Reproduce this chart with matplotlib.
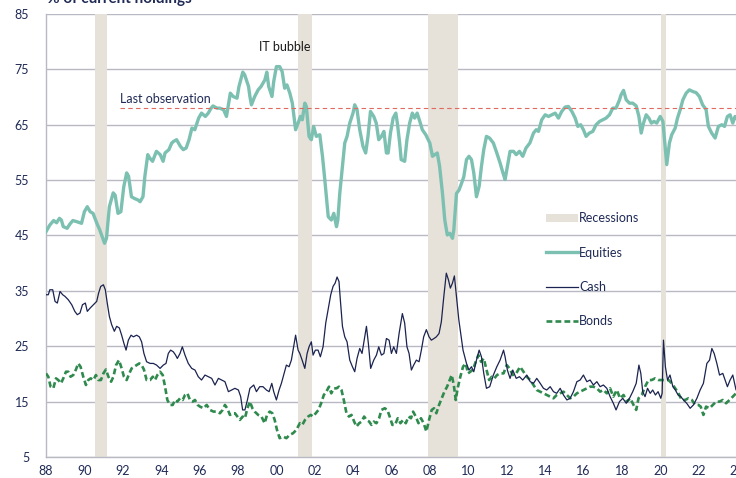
import matplotlib
matplotlib.use("Agg")
import matplotlib.pyplot as plt
from matplotlib.patches import Patch
from matplotlib.lines import Line2D

plt.rcParams['font.family'] = ['Lato', 'DejaVu Sans']

# ---------------- data ----------------
eq_years = [1988.0, 1988.2, 1988.4, 1988.55, 1988.7, 1988.8, 1988.9, 1989.1, 1989.25, 1989.4, 1989.6, 1989.85,
            1990.0, 1990.15, 1990.3, 1990.45, 1990.65, 1990.8, 1991.05, 1991.15, 1991.3, 1991.5, 1991.6, 1991.75,
            1991.9, 1992.05, 1992.2, 1992.3, 1992.45, 1992.6, 1992.8, 1992.9, 1993.05, 1993.15, 1993.3, 1993.4,
            1993.55, 1993.75, 1993.95, 1994.1, 1994.2, 1994.4, 1994.55, 1994.65, 1994.8, 1995.0, 1995.15, 1995.3,
            1995.45, 1995.6, 1995.75, 1995.95, 1996.1, 1996.3, 1996.45, 1996.6, 1996.7, 1996.9, 1997.05, 1997.25,
            1997.4, 1997.6, 1997.75, 1997.95, 1998.05, 1998.25, 1998.35, 1998.55, 1998.62, 1998.7, 1998.87,
            1999.05, 1999.2, 1999.4, 1999.5, 1999.6, 1999.77, 1999.86, 2000.0, 2000.17, 2000.3, 2000.43, 2000.55,
            2000.7, 2000.83, 2001.0, 2001.13, 2001.25, 2001.35, 2001.48, 2001.56, 2001.7, 2001.82, 2001.94,
            2002.08, 2002.26, 2002.4, 2002.52, 2002.7, 2002.86, 2002.99, 2003.13, 2003.2, 2003.3, 2003.44,
            2003.56, 2003.68, 2003.82, 2003.99, 2004.08, 2004.2, 2004.34, 2004.51, 2004.65, 2004.77, 2004.9,
            2005.07, 2005.2, 2005.33, 2005.47, 2005.6, 2005.73, 2005.82, 2005.94, 2006.08, 2006.22, 2006.3,
            2006.42, 2006.5, 2006.68, 2006.8, 2006.94, 2007.08, 2007.2, 2007.33, 2007.47, 2007.6, 2007.78,
            2007.99, 2008.13, 2008.25, 2008.38, 2008.5, 2008.65, 2008.77, 2008.9, 2009.03, 2009.17, 2009.24,
            2009.38, 2009.51, 2009.64, 2009.76, 2009.9, 2010.03, 2010.16, 2010.28, 2010.42, 2010.56, 2010.68,
            2010.8, 2010.94, 2011.1, 2011.3, 2011.48, 2011.65, 2011.8, 2011.91, 2012.03, 2012.17, 2012.35,
            2012.49, 2012.66, 2012.83, 2013.0, 2013.2, 2013.39, 2013.53, 2013.65, 2013.82, 2014.0, 2014.17,
            2014.34, 2014.52, 2014.69, 2014.86, 2015.04, 2015.21, 2015.39, 2015.56, 2015.7, 2015.85, 2015.99,
            2016.13, 2016.3, 2016.48, 2016.65, 2016.83, 2017.0, 2017.17, 2017.35, 2017.52, 2017.69, 2017.87,
            2017.95, 2018.08, 2018.22, 2018.39, 2018.56, 2018.74, 2018.88, 2019.0, 2019.12, 2019.26, 2019.4,
            2019.53, 2019.67, 2019.81, 2019.99, 2020.13, 2020.23, 2020.33, 2020.47, 2020.59, 2020.77, 2020.89,
            2021.03, 2021.17, 2021.34, 2021.51, 2021.69, 2021.86, 2022.03, 2022.2, 2022.38, 2022.5, 2022.67,
            2022.85, 2023.02, 2023.2, 2023.34, 2023.49, 2023.63, 2023.77, 2023.89, 2024.05]
eq_vals = [45.7, 46.9, 47.7, 47.3, 48.1, 47.8, 46.6, 46.3, 47.1, 47.7, 47.5, 47.2,
           49.3, 50.2, 49.3, 49.0, 47.2, 46.0, 43.6, 44.5, 50.2, 52.7, 52.3, 49.0,
           49.3, 53.8, 56.3, 55.7, 52.0, 51.7, 51.4, 51.1, 52.0, 55.7, 59.6, 59.0,
           58.4, 60.2, 59.6, 58.4, 59.9, 60.5, 61.7, 62.0, 62.3, 61.1, 60.5, 60.8,
           62.3, 64.4, 64.1, 66.2, 67.1, 66.5, 67.1, 68.0, 68.4, 68.0, 68.0, 67.7,
           66.5, 70.7, 70.1, 69.8, 71.9, 74.5, 74.0, 71.9, 70.1, 68.6, 70.1,
           71.3, 71.9, 73.1, 74.5, 71.9, 70.1, 72.8, 75.5, 75.5, 74.6, 71.6, 72.2,
           70.7, 68.9, 64.1, 65.3, 66.5, 65.9, 68.9, 68.3, 62.9, 62.3, 64.7,
           62.9, 63.2, 59.3, 55.1, 48.4, 47.8, 49.0, 46.6, 47.8, 52.6, 57.5,
           61.7, 62.9, 65.3, 67.1, 68.6, 67.7, 64.1, 61.1, 59.9, 62.9, 67.4,
           66.5, 65.3, 62.3, 62.9, 63.8, 59.9, 59.9, 63.5, 66.2, 67.1, 65.3,
           61.7, 58.7, 58.4, 62.3, 65.3, 67.1, 66.2, 67.1, 65.6, 64.1, 63.2,
           61.7, 59.3, 59.6, 59.9, 57.5, 52.6, 47.8, 45.1, 45.4, 44.5, 46.0,
           52.6, 53.2, 54.4, 55.6, 58.7, 59.3, 58.7, 56.3, 52.0, 53.9, 57.5,
           60.5, 62.9, 62.6, 61.7, 59.9, 58.1, 56.3, 55.1, 57.5, 60.2, 60.2,
           59.6, 60.2, 59.3, 60.8, 61.7, 63.5, 64.1, 63.8, 65.9, 66.8, 66.5,
           66.8, 67.1, 66.2, 67.4, 68.2, 68.3, 67.4, 66.2, 64.7, 65.0, 64.1,
           62.9, 63.5, 63.8, 65.0, 65.6, 65.9, 66.2, 66.8, 68.0, 68.0, 69.5,
           70.4, 71.2, 69.5, 68.9, 68.9, 68.4, 66.5, 63.5, 65.3, 66.8, 66.2,
           65.3, 65.6, 65.3, 66.5, 65.6, 61.7, 57.8, 61.7, 63.2, 64.4, 66.2,
           67.7, 69.5, 70.7, 71.3, 71.0, 70.8, 70.1, 68.6, 67.7, 64.7, 63.5,
           62.6, 64.7, 65.0, 64.7, 66.5, 66.8, 65.3, 66.5, 65.8]

cash_years = [1988.0, 1988.12, 1988.2, 1988.35, 1988.47, 1988.59, 1988.73, 1988.87, 1988.99, 1989.16, 1989.34,
              1989.5, 1989.63, 1989.77, 1989.9, 1990.05, 1990.15, 1990.3, 1990.47, 1990.64, 1990.74, 1990.85,
              1990.99, 1991.09, 1991.19, 1991.3, 1991.42, 1991.56, 1991.68, 1991.82, 1991.94, 1992.06, 1992.17,
              1992.29, 1992.43, 1992.55, 1992.72, 1992.86, 1992.98, 1993.1, 1993.24, 1993.42, 1993.59, 1993.76,
              1993.94, 1994.11, 1994.25, 1994.37, 1994.49, 1994.63, 1994.75, 1994.84, 1994.98, 1995.1, 1995.24,
              1995.41, 1995.59, 1995.76, 1995.93, 1996.1, 1996.28, 1996.45, 1996.63, 1996.8, 1996.98, 1997.15,
              1997.32, 1997.5, 1997.67, 1997.84, 1998.02, 1998.14, 1998.24, 1998.36, 1998.49, 1998.62, 1998.82,
              1998.96, 1999.13, 1999.3, 1999.48, 1999.62, 1999.76, 1999.86, 2000.0, 2000.14, 2000.26, 2000.4,
              2000.52, 2000.66, 2000.78, 2000.9, 2001.0, 2001.13, 2001.22, 2001.34, 2001.48, 2001.6, 2001.7,
              2001.82, 2001.91, 2002.03, 2002.17, 2002.29, 2002.43, 2002.57, 2002.69, 2002.83, 2002.95, 2003.06,
              2003.16, 2003.26, 2003.33, 2003.44, 2003.56, 2003.68, 2003.82, 2003.96, 2004.08, 2004.2, 2004.34,
              2004.46, 2004.57, 2004.69, 2004.79, 2004.91, 2005.07, 2005.21, 2005.33, 2005.47, 2005.6, 2005.73,
              2005.87, 2005.99, 2006.11, 2006.25, 2006.39, 2006.56, 2006.68, 2006.8, 2006.91, 2007.03, 2007.15,
              2007.29, 2007.43, 2007.55, 2007.67, 2007.81, 2007.95, 2008.07, 2008.21, 2008.33, 2008.47, 2008.59,
              2008.72, 2008.85, 2008.96, 2009.06, 2009.17, 2009.27, 2009.38, 2009.5, 2009.6, 2009.72, 2009.9,
              2010.03, 2010.16, 2010.28, 2010.42, 2010.56, 2010.68, 2010.8, 2010.94, 2011.11, 2011.3, 2011.48,
              2011.65, 2011.83, 2011.91, 2012.03, 2012.17, 2012.31, 2012.49, 2012.66, 2012.83, 2013.04, 2013.22,
              2013.39, 2013.56, 2013.74, 2013.91, 2014.08, 2014.26, 2014.43, 2014.6, 2014.78, 2014.95, 2015.13,
              2015.3, 2015.47, 2015.65, 2015.82, 2015.99, 2016.17, 2016.34, 2016.51, 2016.69, 2016.86, 2017.03,
              2017.21, 2017.38, 2017.55, 2017.69, 2017.87, 2018.04, 2018.22, 2018.39, 2018.56, 2018.74, 2018.88,
              2018.98, 2019.08, 2019.2, 2019.33, 2019.47, 2019.6, 2019.74, 2019.88, 2020.02, 2020.09, 2020.16,
              2020.26, 2020.37, 2020.5, 2020.65, 2020.78, 2020.92, 2021.06, 2021.2, 2021.37, 2021.55, 2021.72,
              2021.9, 2022.07, 2022.24, 2022.42, 2022.56, 2022.68, 2022.8, 2022.94, 2023.08, 2023.25, 2023.37,
              2023.49, 2023.63, 2023.77, 2023.94, 2024.05]
cash_vals = [34.3, 34.3, 35.2, 35.2, 33.1, 32.8, 34.9, 34.3, 34.0, 33.4, 32.5,
             31.3, 30.7, 31.0, 32.5, 32.8, 31.3, 31.9, 32.5, 33.1, 34.6, 35.8,
             36.1, 35.2, 32.8, 30.4, 28.9, 27.7, 28.6, 28.3, 27.0, 25.5, 24.3,
             26.1, 27.0, 26.7, 27.0, 26.7, 25.8, 23.7, 22.2, 21.9, 21.9, 21.6,
             21.0, 21.6, 21.9, 23.7, 24.3, 24.0, 23.4, 22.8, 23.7, 24.9, 23.4,
             21.9, 21.0, 20.7, 19.5, 18.9, 19.8, 19.5, 19.2, 18.0, 19.2, 18.9,
             18.6, 16.8, 17.1, 17.4, 17.1, 15.9, 13.5, 13.5, 15.3, 17.4, 18.0,
             16.8, 17.7, 17.7, 17.1, 16.8, 18.3, 16.8, 15.3, 17.1, 18.3, 20.1,
             21.6, 21.3, 22.5, 24.9, 27.0, 24.3, 23.7, 22.5, 21.0, 23.7, 24.9,
             25.8, 23.4, 24.3, 24.3, 23.1, 24.9, 29.2, 31.6, 34.3, 35.8, 36.4,
             37.5, 36.7, 33.4, 28.6, 26.7, 25.8, 22.5, 21.3, 20.4, 22.8, 24.6,
             23.7, 26.1, 28.6, 25.5, 21.0, 22.5, 23.4, 24.9, 23.4, 23.7, 26.4,
             26.1, 23.7, 24.9, 23.7, 27.3, 30.9, 29.2, 24.9, 23.7, 20.7, 21.6,
             22.5, 22.2, 24.3, 26.7, 28.0, 26.7, 26.1, 26.4, 26.7, 27.3, 29.4,
             34.0, 38.2, 37.0, 35.5, 36.4, 37.7, 34.0, 29.8, 27.3, 24.3, 21.9,
             20.7, 21.3, 20.4, 22.5, 24.3, 23.1, 20.1, 17.4, 17.7, 19.8, 21.3,
             22.5, 24.3, 23.1, 20.7, 19.2, 20.7, 19.2, 19.5, 18.9, 19.8, 18.6,
             18.3, 19.2, 18.3, 17.4, 17.1, 17.7, 16.8, 16.5, 17.4, 16.2, 15.3,
             15.6, 16.8, 18.6, 18.9, 19.8, 18.6, 18.9, 18.0, 18.6, 17.7, 18.0,
             17.4, 15.9, 14.7, 13.5, 15.0, 15.6, 14.7, 15.6, 16.8, 18.3, 21.6,
             20.1, 16.8, 15.9, 17.4, 16.5, 17.1, 16.2, 16.8, 15.6, 16.5, 26.1,
             21.3, 18.9, 19.8, 17.7, 17.1, 16.2, 15.9, 15.3, 14.7, 13.8, 14.4,
             15.6, 17.1, 18.3, 21.9, 22.5, 24.6, 23.7, 21.9, 19.8, 20.1, 18.9,
             17.7, 18.9, 19.8, 17.1, 17.5]

bond_years = [1988.0, 1988.12, 1988.24, 1988.38, 1988.52, 1988.64, 1988.78, 1988.9, 1989.04, 1989.16, 1989.28,
              1989.42, 1989.56, 1989.68, 1989.8, 1989.94, 1990.08, 1990.2, 1990.33, 1990.47, 1990.6, 1990.73,
              1990.86, 1990.99, 1991.12, 1991.25, 1991.39, 1991.51, 1991.65, 1991.8, 1991.94, 1992.06, 1992.2,
              1992.34, 1992.46, 1992.6, 1992.72, 1992.86, 1992.98, 1993.1, 1993.24, 1993.42, 1993.56, 1993.68,
              1993.8, 1993.94, 1994.08, 1994.2, 1994.32, 1994.46, 1994.6, 1994.72, 1994.84, 1994.98, 1995.12,
              1995.24, 1995.36, 1995.5, 1995.64, 1995.76, 1995.9, 1996.02, 1996.2, 1996.37, 1996.54, 1996.72,
              1996.89, 1997.06, 1997.2, 1997.32, 1997.44, 1997.58, 1997.72, 1997.84, 1997.97, 1998.1, 1998.24,
              1998.36, 1998.49, 1998.62, 1998.75, 1998.87, 1999.05, 1999.22, 1999.39, 1999.51, 1999.65, 1999.79,
              1999.91, 2000.03, 2000.17, 2000.35, 2000.52, 2000.69, 2000.87, 2001.04, 2001.22, 2001.35, 2001.49,
              2001.65, 2001.79, 2001.91, 2002.05, 2002.19, 2002.33, 2002.47, 2002.6, 2002.74, 2002.86, 2002.99,
              2003.13, 2003.26, 2003.39, 2003.51, 2003.65, 2003.78, 2003.91, 2004.05, 2004.17, 2004.31, 2004.44,
              2004.57, 2004.69, 2004.83, 2004.95, 2005.07, 2005.21, 2005.35, 2005.47, 2005.64, 2005.78, 2005.9,
              2006.04, 2006.18, 2006.32, 2006.46, 2006.6, 2006.74, 2006.88, 2007.01, 2007.12, 2007.26, 2007.4,
              2007.53, 2007.67, 2007.81, 2007.95, 2008.09, 2008.21, 2008.33, 2008.47, 2008.61, 2008.75, 2008.89,
              2009.03, 2009.13, 2009.24, 2009.34, 2009.44, 2009.58, 2009.72, 2009.86, 2009.98, 2010.1, 2010.24,
              2010.38, 2010.52, 2010.66, 2010.8, 2010.94, 2011.08, 2011.22, 2011.35, 2011.49, 2011.65, 2011.83,
              2012.0, 2012.14, 2012.31, 2012.49, 2012.69, 2012.87, 2013.04, 2013.22, 2013.39, 2013.56, 2013.74,
              2013.91, 2014.08, 2014.26, 2014.43, 2014.6, 2014.78, 2014.95, 2015.13, 2015.3, 2015.47, 2015.65,
              2015.82, 2015.99, 2016.17, 2016.34, 2016.51, 2016.69, 2016.86, 2017.03, 2017.21, 2017.38, 2017.55,
              2017.73, 2017.9, 2018.08, 2018.26, 2018.43, 2018.6, 2018.74, 2018.86, 2019.03, 2019.2, 2019.38,
              2019.55, 2019.72, 2019.9, 2020.07, 2020.25, 2020.42, 2020.59, 2020.77, 2020.94, 2021.11, 2021.29,
              2021.46, 2021.64, 2021.81, 2021.98, 2022.1, 2022.24, 2022.38, 2022.56, 2022.73, 2022.9, 2023.08,
              2023.25, 2023.42, 2023.6, 2023.77, 2023.94, 2024.05]
bond_vals = [20.1, 19.5, 17.7, 17.4, 19.2, 18.9, 18.3, 19.2, 20.4, 20.4, 19.5,
             19.8, 20.8, 21.9, 21.3, 19.5, 18.0, 18.9, 19.2, 18.9, 19.8, 18.9,
             18.9, 20.1, 20.8, 19.5, 18.6, 19.5, 21.6, 22.5, 21.0, 19.5, 18.9,
             20.1, 21.0, 21.3, 21.6, 21.9, 21.6, 20.8, 18.9, 18.9, 19.5, 18.9,
             19.8, 20.4, 19.8, 17.7, 15.3, 14.4, 14.4, 15.3, 15.0, 15.6, 15.3,
             16.2, 16.5, 15.3, 15.0, 15.3, 14.4, 14.1, 13.8, 14.4, 13.5, 13.2,
             13.2, 12.9, 13.5, 14.4, 13.8, 12.6, 12.9, 12.9, 12.3, 11.7, 12.3,
             12.0, 13.8, 15.0, 13.8, 13.2, 12.6, 12.3, 11.1, 12.6, 13.2, 12.9,
             11.7, 9.9, 8.4, 8.7, 8.4, 9.0, 9.3, 9.9, 11.1, 10.8, 11.7,
             12.3, 12.6, 12.3, 12.9, 13.5, 14.7, 16.2, 16.8, 17.7, 16.5, 17.4,
             17.4, 17.7, 17.1, 15.3, 12.9, 12.3, 12.6, 11.4, 10.5, 11.1, 11.4,
             12.3, 11.7, 11.4, 10.8, 11.4, 11.1, 12.0, 13.5, 13.8, 13.5, 12.3,
             10.8, 10.8, 12.0, 11.1, 11.7, 11.1, 12.3, 12.0, 13.2, 12.3, 11.1,
             12.0, 11.1, 9.6, 11.7, 13.5, 13.8, 12.9, 14.4, 15.6, 16.8, 17.7,
             18.9, 19.8, 18.0, 15.3, 17.4, 19.5, 21.3, 21.9, 20.1, 20.4, 20.8,
             22.2, 23.4, 22.2, 22.8, 20.8, 18.9, 19.5, 19.2, 19.8, 20.1, 20.1,
             21.6, 21.0, 19.8, 20.1, 21.3, 20.4, 19.5, 18.9, 18.0, 17.1, 16.8,
             16.5, 16.2, 15.9, 15.6, 16.2, 16.5, 16.8, 16.2, 15.6, 15.9, 16.5,
             16.8, 17.1, 17.4, 17.7, 17.7, 17.4, 16.8, 17.1, 16.5, 17.4, 15.9,
             17.1, 15.6, 16.2, 15.0, 15.6, 14.4, 13.5, 15.6, 16.2, 17.7, 18.9,
             18.9, 19.2, 18.9, 18.9, 18.9, 18.9, 18.3, 17.4, 16.5, 15.3, 15.3,
             15.6, 15.3, 14.4, 14.4, 14.1, 12.6, 14.1, 13.8, 14.4, 15.0, 15.0,
             15.3, 14.7, 15.3, 15.9, 16.5, 16.8]

recessions = [(1990.55, 1991.2), (2001.15, 2001.85), (2007.9, 2009.45), (2020.05, 2020.3)]
last_observation = 68.1
year_ticks = list(range(1988, 2025, 2))
y_ticks = list(range(5, 86, 10))

# ---------------- style ----------------
navy = '#1f2a55'
c_eq = '#7cc0b2'
c_cash = '#1b2350'
c_bond = '#2f8a4e'
c_rec = '#e6e1d9'
c_grid = '#b9b9c3'

W, H = 736, 478
fig = plt.figure(figsize=(W / 100, H / 100), dpi=100)
left, right, top, bottom = 46, 746.8, 14, 457
ax = fig.add_axes([left / W, 1 - bottom / H, (right - left) / W, (bottom - top) / H])
ax.set_xlim(1988, 2024.5)
ax.set_ylim(5, 85)

for (a, b) in recessions:
    ax.axvspan(a, b, color=c_rec, lw=0, zorder=1)

ax.set_yticks(y_ticks)
ax.yaxis.grid(True, color=c_grid, lw=1.0, zorder=0)
ax.set_axisbelow(True)
ax.set_xticks(year_ticks)
ax.set_xticklabels([f"{y % 100:02d}" for y in year_ticks])
ax.tick_params(axis='both', length=0, labelsize=9, labelcolor=navy)
ax.tick_params(axis='y', pad=12)
ax.tick_params(axis='x', pad=6)
for s in ['top', 'right']:
    ax.spines[s].set_visible(False)
for s in ['left', 'bottom']:
    ax.spines[s].set_color(c_grid)
    ax.spines[s].set_linewidth(1.0)

ax.plot(bond_years, bond_vals, color=c_bond, lw=1.9, dashes=(2.2, 1.2), zorder=3)
ax.plot(cash_years, cash_vals, color=c_cash, lw=0.9, zorder=4)
ax.plot(eq_years, eq_vals, color=c_eq, lw=2.4, zorder=5)

ax.plot([1991.85, 2024.5], [last_observation, last_observation], color='#e06a5e', lw=0.8,
        dashes=(4, 3), zorder=6)
ax.text(1991.85, 69.0, 'Last observation', color=navy, fontsize=9, ha='left', va='baseline')
ax.text(2000.45, 79.0, 'IT bubble', color='#1a1a1a', fontsize=9, ha='center', va='center')

fig.text(47 / W, 1 - 3 / H, '% of current holdings', color=navy, fontsize=11, fontweight='bold',
         ha='left', va='baseline')

handles = [Patch(facecolor=c_rec, edgecolor='none'),
           Line2D([], [], color=c_eq, lw=2.4),
           Line2D([], [], color=c_cash, lw=0.9),
           Line2D([], [], color=c_bond, lw=1.9, dashes=(2.2, 1.2))]
labels = ['Recessions', 'Equities', 'Cash', 'Bonds']
leg = ax.legend(handles, labels, loc='upper left', bbox_to_anchor=(540 / W, 1 - 206 / H),
                bbox_transform=fig.transFigure, frameon=False, fontsize=9, handlelength=2.5,
                handleheight=0.6, handletextpad=0.15, labelspacing=1.78, borderpad=0)
for t in leg.get_texts():
    t.set_color(navy)

fig.savefig('out.png', dpi=100)
